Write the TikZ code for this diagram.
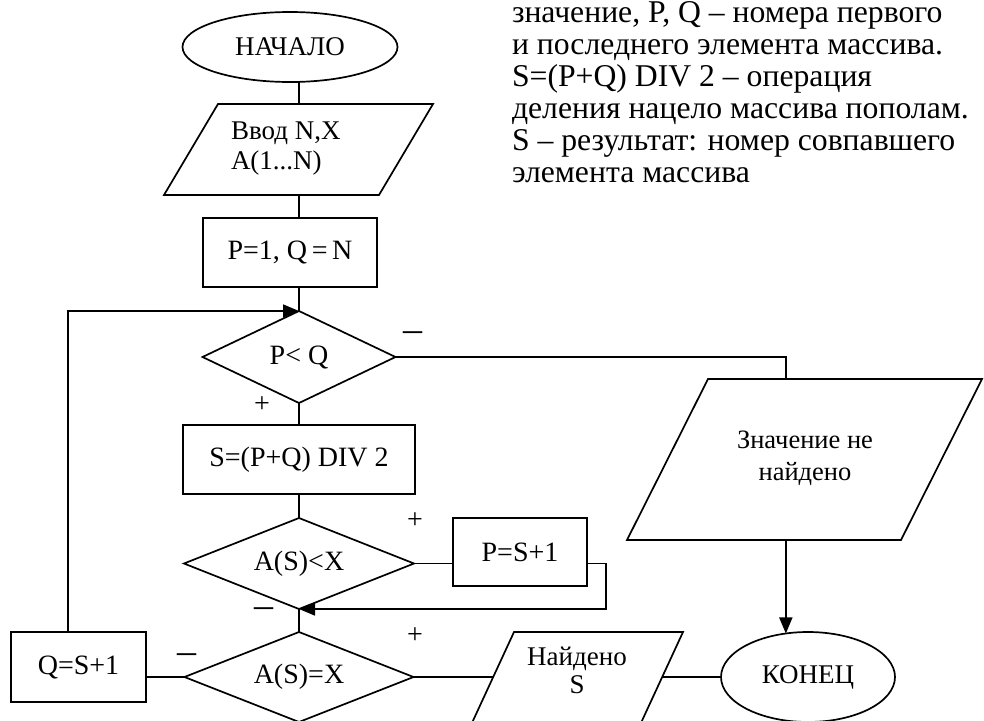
\documentclass[tikz,border=0pt]{standalone}
\usepackage{fontspec}
\setmainfont{Liberation Serif}
\usetikzlibrary{shapes.geometric,arrows.meta}
\newcommand\blkfont{\fontsize{28}{30}\selectfont}
\newcommand\termfont{\fontsize{27}{30}\selectfont}
\newcommand\notefont{\fontsize{31.7}{32}\selectfont}
\begin{document}
\begin{tikzpicture}[x=1pt,y=-1pt,
  every node/.style={inner sep=0pt, outer sep=0pt},
  shapeline/.style={draw, line width=1.7pt},
  term/.style={shapeline, ellipse, font=\termfont},
  proc/.style={shapeline, rectangle, font=\blkfont},
  cond/.style={shapeline, diamond, aspect=2, font=\blkfont},
  io/.style={line width=1.7pt, line join=miter},
  iotext/.style={align=center, font=\termfont},
  link/.style={line width=1.7pt},
  flow/.style={link, -{Triangle[length=16pt,width=13pt]}},
  plus/.style={font=\fontsize{28}{28}\selectfont},
  minus/.style={font=\fontsize{38}{38}\selectfont, anchor=base},
]
\useasboundingbox (0,0) rectangle (984,720);

% explanatory note
\node[anchor=north west, align=left, font=\notefont] (note) at (512,2)
  {значение, P, Q – номера первого\\
   и последнего элемента массива.\\
   S=(P+Q) DIV 2 – операция\\
   деления нацело массива пополам.\\
   S – результат: номер совпавшего\\
   элемента массива};

% main axis of the flowchart
\coordinate (axis) at (299,0);

% start
\node[term, minimum width=215, minimum height=70] (start) at (290,47) {НАЧАЛО};

% input
\draw[io] (218,104) coordinate (inTL) -- (433,104) -- (379,195) coordinate (inBR)
  -- (164,195) coordinate (inBL) -- cycle;
\node[anchor=west, align=left, font=\termfont] (input) at (231,149) {Ввод N,X\\A(1...N)};

% initialisation and loop condition
\node[proc, minimum width=174, minimum height=69] (init) at (290,252.5) {P=1, Q\,=\,N};
\node[cond, minimum width=193, minimum height=92] (cond1) at (299,357) {P< Q};
\node[proc, minimum width=232, minimum height=69] (calc) at (299,459.5) {S=(P+Q) DIV 2};
\node[cond, minimum width=230, minimum height=91] (cond2) at (299,563.5) {A(S)<X};
\node[proc, minimum width=134, minimum height=68] (incP) at (520,552) {P=S+1};
\node[cond, minimum width=229, minimum height=90] (cond3) at (299,677) {A(S)=X};
\node[proc, minimum width=135, minimum height=70] (incQ) at (78.5,667) {Q=S+1};

% output: not found
\draw[io] (708,379) coordinate (nfTL) -- (982,379) -- (901,540)
  -- (627,540) coordinate (nfBL) -- cycle;
\node[iotext, font=\fontsize{26.5}{32}\selectfont] (nftext) at (805,458) {Значение не\\найдено};

% output: found
\draw[io] (514,632) -- (683,632) -- (641.4,722) -- (472.4,722) -- cycle;
\coordinate (fdL) at (493.2,677);
\coordinate (fdR) at (662.2,677);
\node[iotext, font=\fontsize{27}{28}\selectfont] (fdtext) at (577,670) {Найдено\\S};

% stop
\node[term, minimum width=174, minimum height=90] (stop) at (808,677) {КОНЕЦ};

% connectors
\draw[link] (start.south -| axis) -- (axis |- inTL);
\draw[link] (axis |- inBL) -- (axis |- init.north);
\draw[link] (axis |- init.south) -- (cond1.north);
\draw[link] (cond1.south) -- (calc.north);
\draw[link] (calc.south) -- (cond2.north);
\draw[link] (cond2.east) -- (incP.west |- cond2.east);
\coordinate (ret) at (606,0);
\draw[flow] (incP.east |- cond2.east) -| (ret |- cond2.south) -- (cond2.south);
\draw[link] (cond2.south) -- (cond3.north);
\draw[link] (cond3.west) -- (incQ.east |- cond3.west);
\coordinate (loop) at (68,0);
\draw[flow] (loop |- incQ.north) |- (cond1.north);
\coordinate (nfx) at (786,0);
\draw[link] (cond1.east) -| (nfx |- nfTL);
\draw[flow] (stop.117 |- nfBL) -- (stop.117);
\draw[link] (cond3.east) -- (fdL);
\draw[link] (fdR) -- (stop.west);

% branch labels
\node[plus] (yes1) at (262,405) {+};
\node[minus] (no1) at (413,341.4) {–};
\node[plus] (yes2) at (415,521) {+};
\node[minus] (no2) at (264,617.4) {–};
\node[plus] (yes3) at (415,636) {+};
\node[minus] (no3) at (187,663.4) {–};
\end{tikzpicture}
\end{document}
